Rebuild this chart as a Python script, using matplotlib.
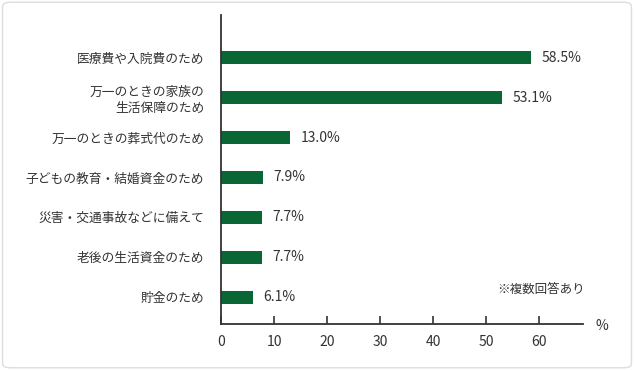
import matplotlib.pyplot as plt
from matplotlib.patches import FancyBboxPatch

plt.rcParams['font.family'] = ['Noto Sans CJK JP', 'DejaVu Sans']

# ------------------------------------------------------------
# data
# ------------------------------------------------------------
categories = [
    "医療費や入院費のため",
    "万一のときの家族の\n生活保障のため",
    "万一のときの葬式代のため",
    "子どもの教育・結婚資金のため",
    "災害・交通事故などに備えて",
    "老後の生活資金のため",
    "貯金のため",
]
values = [58.5, 53.1, 13.0, 7.9, 7.7, 7.7, 6.1]
xticks = [0, 10, 20, 30, 40, 50, 60]

bar_color = "#0a6634"
text_color = "#333333"

fig = plt.figure(figsize=(6.34, 3.70), dpi=100)

# rounded frame round the whole chart (behind the axes)
frame = FancyBboxPatch((0.004, 0.006), 0.992, 0.988,
                       boxstyle="round,pad=0,rounding_size=0.012",
                       transform=fig.transFigure, facecolor="none",
                       edgecolor="#dddddd", linewidth=1.0, zorder=-1)
fig.patches.append(frame)

ax = fig.add_axes([221 / 634, 1 - 324 / 370, (583 - 221) / 634, (324 - 15) / 370])
ax.set_facecolor("none")

pos = list(range(len(categories)))
ax.barh(pos, values, height=0.33, color=bar_color)

for p, v in zip(pos, values):
    ax.annotate(f"{v:.1f}%", (v, p), xytext=(7.5, 0), textcoords="offset points",
                va="center", ha="left", fontsize=10, color=text_color)

ax.set_xlim(0, 68.3)
ax.set_ylim(6.675, -1.075)
ax.set_xticks(xticks)
ax.set_yticks(pos)
ax.set_yticklabels(categories, fontsize=9.2, color=text_color, linespacing=1.3)

ax.tick_params(axis="x", direction="in", length=6, width=1.2, color=text_color,
               labelsize=10, labelcolor=text_color, pad=8)
ax.tick_params(axis="y", length=0, pad=12)

for s in ["top", "right"]:
    ax.spines[s].set_visible(False)
for s in ["left", "bottom"]:
    ax.spines[s].set_color(text_color)
    ax.spines[s].set_linewidth(1.3)

fig.text(602 / 634, 1 - 326 / 370, "%", fontsize=10, color=text_color,
         ha="center", va="center")
fig.text(585 / 634, 1 - 289 / 370, "※複数回答あり", fontsize=9, color=text_color,
         ha="right", va="center")

fig.savefig("out.png", dpi=100)
